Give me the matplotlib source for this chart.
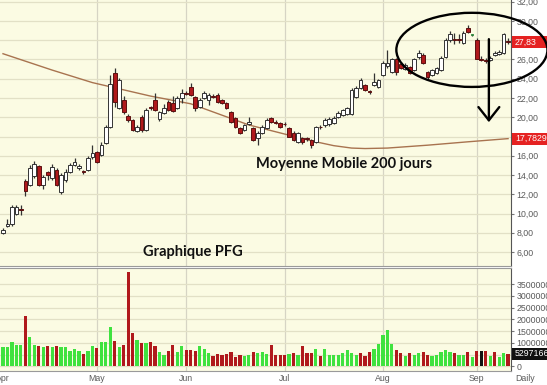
import numpy as np
import matplotlib
matplotlib.use('Agg')
import matplotlib.pyplot as plt
from matplotlib.patches import Rectangle, Ellipse
from matplotlib.transforms import blended_transform_factory

# daily candles, 1 Apr -> 11 Sep
opens = [8.0, 8.7, 8.9, 9.9, 10.5, 13.4, 13.0, 13.9, 14.9, 13.0, 14.3, 13.7, 14.5, 12.2, 13.5, 14.3, 15.0, 14.7, 14.4, 14.5, 15.9,
         16.4, 16.1, 17.3, 19.0, 24.6, 21.0, 21.8, 20.1, 19.7, 18.6, 20.0, 18.7, 21.0, 21.8, 19.8, 20.4, 21.6, 21.5, 21.0, 22.0,
         22.5, 23.1, 22.1, 21.1, 22.0, 21.8, 22.2, 22.3, 21.8, 21.5, 20.5, 19.9, 18.9, 18.7, 19.3, 18.9, 17.8, 18.4, 18.9, 19.9, 19.5, 19.4,
         19.3, 18.9, 18.4, 17.4, 17.8, 17.8, 17.6, 17.4, 19.0, 19.2, 19.3, 19.4, 20.0, 20.2, 20.3, 20.3, 22.1, 23.0, 23.3, 22.7, 23.3, 23.1,
         24.4, 25.3, 24.7, 26.0, 25.5, 25.0, 25.2, 24.9, 26.3, 26.5, 24.7, 24.4, 24.6, 24.9, 26.3, 28.0, 28.1, 28.1, 27.7, 29.3, 28.5,
         28.0, 26.0, 25.9, 25.9, 26.5, 26.6, 26.7, 27.9]
highs = [8.5, 9.4, 10.9, 10.9, 10.9, 13.6, 15.0, 15.5, 15.0, 14.0, 14.4, 15.1, 14.7, 14.2, 14.6, 15.2, 15.8, 15.1, 14.5, 16.0, 17.1,
         16.5, 17.4, 19.2, 24.4, 25.1, 24.1, 22.2, 20.3, 19.8, 19.2, 20.2, 21.0, 21.2, 22.5, 20.7, 21.4, 21.8, 22.2, 22.2, 22.9,
         22.7, 23.6, 22.2, 22.0, 22.7, 22.5, 22.4, 22.5, 21.9, 21.6, 20.7, 20.0, 19.0, 19.3, 20.0, 19.0, 18.6, 19.2, 19.9, 20.0, 19.7, 19.5,
         19.5, 19.0, 18.6, 18.5, 17.9, 17.9, 17.7, 19.1, 19.2, 19.9, 20.0, 20.1, 20.6, 20.9, 21.1, 23.0, 23.2, 24.1, 23.5, 22.8, 24.6, 24.0,
         25.8, 27.0, 26.2, 26.2, 25.7, 25.6, 25.3, 26.2, 27.0, 26.7, 24.8, 25.0, 25.2, 26.4, 28.2, 29.0, 28.8, 28.6, 29.0, 29.6, 28.6,
         28.2, 26.4, 26.2, 26.4, 26.9, 27.0, 28.8, 28.2]
lows = [7.9, 8.6, 8.7, 9.8, 9.8, 11.8, 12.9, 13.7, 12.9, 12.5, 13.5, 13.5, 12.9, 12.0, 13.3, 14.2, 14.9, 14.5, 14.1, 14.4, 15.7,
        15.3, 16.0, 17.2, 18.9, 21.1, 20.9, 20.3, 19.5, 18.6, 18.5, 18.5, 18.6, 20.8, 20.7, 19.6, 20.3, 20.6, 20.5, 20.9, 21.5,
        22.3, 22.2, 20.6, 21.0, 21.9, 21.3, 22.0, 21.5, 21.4, 20.9, 19.4, 18.9, 18.3, 18.6, 19.2, 17.5, 17.1, 18.3, 18.8, 19.4, 19.3, 18.9,
        19.1, 17.9, 17.5, 17.3, 17.2, 17.5, 16.8, 17.3, 18.8, 19.0, 19.1, 19.3, 19.9, 20.1, 20.2, 20.2, 22.0, 22.9, 22.7, 22.4, 23.2, 23.0,
        24.3, 25.1, 24.6, 24.4, 25.0, 24.9, 24.5, 24.8, 26.1, 25.5, 24.0, 24.3, 24.5, 24.8, 26.2, 27.8, 27.6, 27.7, 27.6, 28.8, 28.4,
        26.0, 25.8, 25.6, 25.8, 26.4, 26.5, 26.6, 27.6]
closes = [8.3, 8.9, 10.7, 10.7, 10.4, 12.3, 14.7, 15.1, 13.0, 13.8, 14.0, 14.8, 13.0, 14.0, 14.3, 15.0, 15.4, 14.9, 14.3, 15.8, 16.3,
          15.4, 17.1, 19.0, 23.5, 21.6, 23.9, 20.5, 19.7, 18.7, 19.0, 18.7, 20.8, 20.95, 20.8, 20.5, 21.0, 20.8, 20.6, 22.0, 22.5,
          22.45, 22.3, 21.0, 21.8, 22.5, 22.3, 22.15, 21.6, 21.5, 21.0, 19.5, 19.0, 18.4, 19.2, 19.5, 17.6, 18.4, 19.0, 19.7, 19.5, 19.45, 19.0,
          19.25, 18.0, 17.6, 18.4, 17.4, 17.7, 17.1, 19.0, 18.95, 19.7, 19.8, 19.9, 20.4, 20.8, 21.0, 22.8, 23.0, 23.9, 22.8, 22.6, 23.7, 23.9,
          25.6, 25.6, 26.0, 24.7, 25.1, 25.4, 24.6, 26.0, 26.7, 25.6, 24.2, 24.9, 25.1, 26.2, 28.0, 28.7, 28.05, 28.05, 28.8, 28.9, 28.5,
          26.1, 25.95, 25.85, 26.2, 26.7, 26.8, 28.7, 27.83]

# volume (millions) and direction of the volume bar (1 up, -1 down, 0 flat)
volumes = [0.81, 0.81, 1.02, 0.92, 0.92, 2.13, 1.24, 0.92, 0.88, 0.81, 0.85, 0.81, 0.85, 0.81, 0.81, 0.67, 0.74, 0.67, 0.53, 0.64, 0.88,
           0.78, 1.02, 1.02, 1.66, 1.07, 0.81, 0.90, 4.02, 1.42, 1.14, 1.00, 1.00, 1.04, 0.85, 0.61, 0.50, 0.67, 0.90, 0.61, 0.85,
           0.71, 0.71, 0.67, 0.88, 0.75, 0.57, 0.43, 0.53, 0.47, 0.53, 0.61, 0.38, 0.50, 0.43, 0.50, 0.61, 0.57, 0.61, 0.53, 0.90, 0.50, 0.50,
           0.50, 0.53, 0.57, 0.50, 0.85, 0.55, 0.57, 0.72, 0.45, 0.75, 0.50, 0.50, 0.50, 0.55, 0.70, 0.55, 0.50, 0.55, 0.45, 0.60, 0.75, 0.95,
           1.35, 1.55, 0.95, 0.70, 0.55, 0.45, 0.55, 0.50, 0.55, 0.60, 0.50, 0.45, 0.50, 0.60, 0.70, 0.60, 0.55, 0.50, 0.50, 0.60, 0.40,
           0.65, 0.65, 0.65, 0.45, 0.60, 0.40, 0.55, 0.53]
vol_dir = [1, 1, 1, 1, 1, -1, 1, 1, -1, 1, -1, 1, -1, 1, 1, 1, 1, 1, -1, 1, 1,
           -1, 1, 1, 1, -1, 1, -1, -1, -1, 1, -1, 1, -1, -1, 1, 1, -1, -1, 1, 1,
           -1, -1, -1, 1, 1, 1, -1, -1, -1, -1, -1, -1, -1, 1, 1, -1, 1, 1, 1, -1, -1, -1,
           -1, 1, -1, 1, -1, -1, -1, 1, -1, 1, 1, 1, 1, 1, 1, 1, 1, -1, -1, -1, 1, 1,
           1, 1, 1, -1, -1, 1, -1, 1, 1, -1, -1, 1, 1, 1, 1, 1, -1, 1, 1, -1, 1,
           -1, 0, -1, 1, -1, 1, 1, -1]

# 200 day moving average, read at a few days
ma_idx = [0, 11, 20, 33, 42, 55, 69, 74, 78, 81, 86, 95, 104, 113]
ma_val = [26.6, 24.9, 23.6, 22.2, 21.4, 19.2, 17.55, 17.05, 16.8, 16.75, 16.8, 17.1, 17.45, 17.78]

month_idx = [0, 21, 41, 63, 85, 106]
month_lbl = ['Apr', 'May', 'Jun', 'Jul', 'Aug', 'Sep']
price_ticks = [6, 8, 10, 12, 14, 16, 18, 20, 22, 24, 26, 28, 30, 32]
vol_ticks = [0, 0.5, 1.0, 1.5, 2.0, 2.5, 3.0, 3.5]
last_price, last_ma, last_vol_lbl = 27.83, 17.7829, '5297166'

BG = '#fbfbe3'
GRID = '#e2e0c6'
RED = '#b0191c'
GREEN = '#3fe23f'
DARK = '#333333'

fig = plt.figure(figsize=(5.47, 3.85), dpi=100)
fig.patch.set_facecolor('white')
W, H = 547.0, 385.0
ax = fig.add_axes([0, (H - 266) / H, 511 / W, 266 / H])
axv = fig.add_axes([0, (H - 371) / H, 511 / W, 103 / H])

x = np.arange(len(closes))
o, h, l, c = map(np.array, (opens, highs, lows, closes))

for a in (ax, axv):
    a.set_facecolor(BG)
    a.set_xlim(-0.67, 113.65)
    for m in month_idx[1:]:
        a.axvline(m, color='#d6d4c4', lw=0.9, zorder=1)
    for side in ('left', 'top'):
        a.spines[side].set_visible(False)
    a.spines['bottom'].set_color('#9a9a9a')
    a.spines['right'].set_color('#555555')
    a.yaxis.tick_right()
    a.tick_params(axis='y', length=2, color='#777777', labelsize=6.3, labelcolor='#5a5a5a', pad=2)
    a.set_xticks([])

# price panel
ax.set_ylim(4.55, 32.18)
for p in price_ticks:
    ax.axhline(p, color=GRID, lw=0.9, zorder=1)
ax.set_yticks(price_ticks)
# 18 and 28 sit under the value boxes
ax.set_yticklabels(['' if p in (18, 28) else f'{p},00' for p in price_ticks], fontfamily='Liberation Sans')

ax.plot(ma_idx, ma_val, color='#a8734f', lw=1.0, zorder=2)

up = c > o
down = c < o
ax.vlines(x, l, h, color=DARK, lw=0.9, zorder=3)
body = np.maximum(np.abs(c - o), 0.07)
ax.bar(x[up], body[up], bottom=np.minimum(o, c)[up], width=0.82, color='white', edgecolor=DARK, lw=0.7, zorder=4)
ax.bar(x[down], body[down], bottom=np.minimum(o, c)[down], width=0.82, color=RED, edgecolor='#5a1010', lw=0.7, zorder=4)
flat = ~(up | down)
ax.hlines(c[flat], x[flat] - 0.4, x[flat] + 0.4, color='#2a8a3a', lw=1.2, zorder=4)

tr = blended_transform_factory(ax.transAxes, ax.transData)
for val, txt in ((last_price, '27,83'), (last_ma, '17,7829')):
    ax.add_patch(Rectangle((1.002, val - 0.62), 0.09, 1.24, transform=tr, facecolor='#e52222',
                           edgecolor='none', clip_on=False, zorder=6))
    ax.text(1.008, val, txt, transform=tr, color='white', fontsize=6.3, va='center', ha='left',
            fontfamily='Liberation Sans', zorder=7)

ax.text(56.5, 15.1, 'Moyenne Mobile 200 jours', fontsize=10.5, fontweight='bold', fontfamily='Lato',
        color='#111111', va='center', ha='left', zorder=8)
ax.text(31.3, 6.0, 'Graphique PFG', fontsize=10.5, fontweight='bold', fontfamily='Lato',
        color='#111111', va='center', ha='left', zorder=8)

# circled zone and arrow
ax.add_patch(Ellipse((104.9, 27.0), 33.8, 7.7, facecolor='none', edgecolor='black', lw=1.7,
                     clip_on=False, zorder=9))
ax.annotate('', xy=(108.7, 19.2), xytext=(108.7, 28.4),
            arrowprops=dict(arrowstyle='->, head_length=0.95, head_width=0.75', color='black', lw=1.7),
            annotation_clip=False, zorder=9)

# volume panel
vol = np.array(volumes)
vd = np.array(vol_dir)
axv.set_ylim(-0.2, 4.19)
for v in vol_ticks:
    axv.axhline(v, color=GRID, lw=0.9, zorder=1)
axv.set_yticks(vol_ticks)
axv.set_yticklabels(['0' if v == 0 else ('' if v == 0.5 else f'{int(v * 1e6)}') for v in vol_ticks],
                    fontfamily='Liberation Sans')
cols = np.where(vd > 0, GREEN, np.where(vd < 0, RED, '#111111'))
axv.bar(x, vol, width=0.72, color=cols, lw=0, zorder=3)
axv.spines['top'].set_visible(True)
axv.spines['top'].set_color('#9a9a9a')

trv = blended_transform_factory(axv.transAxes, axv.transData)
axv.add_patch(Rectangle((1.002, vol[-1] - 0.27), 0.09, 0.54, transform=trv, facecolor='#111111',
                        edgecolor='none', clip_on=False, zorder=6))
axv.text(1.008, vol[-1], last_vol_lbl, transform=trv, color='white', fontsize=6.3, va='center', ha='left',
         fontfamily='Liberation Sans', zorder=7)

# date axis
for m, lbl in zip(month_idx, month_lbl):
    axv.text(m, -0.32, lbl, ha='center', va='top', fontsize=6.3, color='#5a5a5a', fontfamily='Liberation Sans')
axv.text(1.008, -0.32, 'Daily', transform=trv, ha='left', va='top', fontsize=6.3, color='#5a5a5a',
         fontfamily='Liberation Sans')

fig.savefig('out.png', dpi=100, facecolor='white')
